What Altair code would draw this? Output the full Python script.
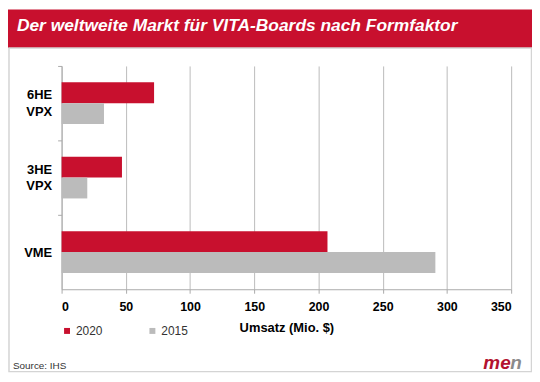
import altair as alt
import pandas as pd

categories = ["6HE VPX", "3HE VPX", "VME"]
years = ["2020", "2015"]
values_2020 = [72, 47, 207]
values_2015 = [33, 20, 291]
x_ticks = [0, 50, 100, 150, 200, 250, 300, 350]

title_text = "Der weltweite Markt für VITA-Boards nach Formfaktor"
source_text = "Source: IHS"

RED = "#c8102e"
GRAY = "#bbbbbb"
FONT = "Liberation Sans"

rows = []
for c, a, b in zip(categories, values_2020, values_2015):
    rows.append({"cat": c, "year": "2020", "value": a})
    rows.append({"cat": c, "year": "2015", "value": b})
df = pd.DataFrame(rows)

bars = alt.Chart(df).mark_bar().encode(
    x=alt.X(
        "value:Q",
        scale=alt.Scale(domain=[0, 350], nice=False),
        axis=alt.Axis(
            values=x_ticks,
            title="Umsatz (Mio. $)",
            titleFont=FONT, titleFontSize=13, titleFontWeight="bold", titleColor="#000",
            titlePadding=9,
            labelFont=FONT, labelFontSize=12.5, labelFontWeight="bold", labelColor="#000",
            labelPadding=7,
            tickSize=4, tickColor="#aaaaaa", domainColor="#aaaaaa",
            grid=True, gridColor="#bbbbbb",
        ),
    ),
    y=alt.Y(
        "cat:N",
        sort=categories,
        scale=alt.Scale(paddingInner=0.44, paddingOuter=0.22),
        axis=alt.Axis(
            title=None,
            labelExpr="split(datum.label, ' ')",
            labelFont=FONT, labelFontSize=13, labelFontWeight="bold", labelColor="#000",
            labelLineHeight=17, labelPadding=6,
            tickSize=4, tickColor="#aaaaaa", domainColor="#aaaaaa",
            tickOffset=-37.5,
            labelOffset={"condition": {"test": "datum.value == 'VME'", "value": 37.5}, "value": 29},
            grid=False,
        ),
    ),
    yOffset=alt.YOffset("year:N", sort=years, scale=alt.Scale(paddingInner=0, paddingOuter=0)),
    color=alt.Color(
        "year:N",
        sort=years,
        scale=alt.Scale(domain=years, range=[RED, GRAY]),
        legend=alt.Legend(
            title=None,
            orient="none",
            legendX=-0.5,
            legendY=261,
            direction="horizontal",
            columns=2,
            columnPadding=44,
            padding=0,
            symbolType="square",
            symbolSize=36,
            symbolStrokeWidth=0,
            labelOffset=3,
            labelFont=FONT,
            labelFontSize=12,
            labelColor="#333333",
        ),
    ),
)

band = alt.Chart(pd.DataFrame({"a": [0]})).mark_rect(color=RED).encode(
    x=alt.value(-54), x2=alt.value(474), y=alt.value(-57), y2=alt.value(-18)
)

frame = alt.Chart(pd.DataFrame({"a": [0]})).mark_rect(
    fill=None, fillOpacity=0, stroke="#d4d4d4", strokeWidth=1.5
).encode(
    x=alt.value(-53), x2=alt.value(473.5), y=alt.value(-18), y2=alt.value(308)
)

title = alt.Chart(pd.DataFrame({"t": [title_text]})).mark_text(
    font=FONT, fontSize=17.5, fontWeight="bold", fontStyle="italic", color="white",
    align="left", baseline="middle"
).encode(text="t:N", x=alt.value(-45), y=alt.value(-40))

source = alt.Chart(pd.DataFrame({"t": [source_text]})).mark_text(
    font=FONT, fontSize=10, color="#333333", align="left", baseline="middle"
).encode(text="t:N", x=alt.value(-49), y=alt.value(302))

logo_a = alt.Chart(pd.DataFrame({"t": ["me"]})).mark_text(
    font=FONT, fontSize=19, fontWeight="bold", fontStyle="italic", color="#b3122f",
    align="left", baseline="middle"
).encode(text="t:N", x=alt.value(425), y=alt.value(299))

logo_b = alt.Chart(pd.DataFrame({"t": ["n"]})).mark_text(
    font=FONT, fontSize=19, fontWeight="bold", fontStyle="italic", color="#8a8a8a",
    align="left", baseline="middle"
).encode(text="t:N", x=alt.value(452), y=alt.value(299))

chart = alt.layer(band, frame, bars, title, source, logo_a, logo_b).properties(
    width=453,
    height=225,
    autosize=alt.AutoSizeParams(type="none"),
    padding={"left": 54, "top": 57, "right": 21, "bottom": 84},
    background="white",
).configure_view(stroke=None)

chart.save("out.html", embed_options={"renderer": "svg", "actions": False})
